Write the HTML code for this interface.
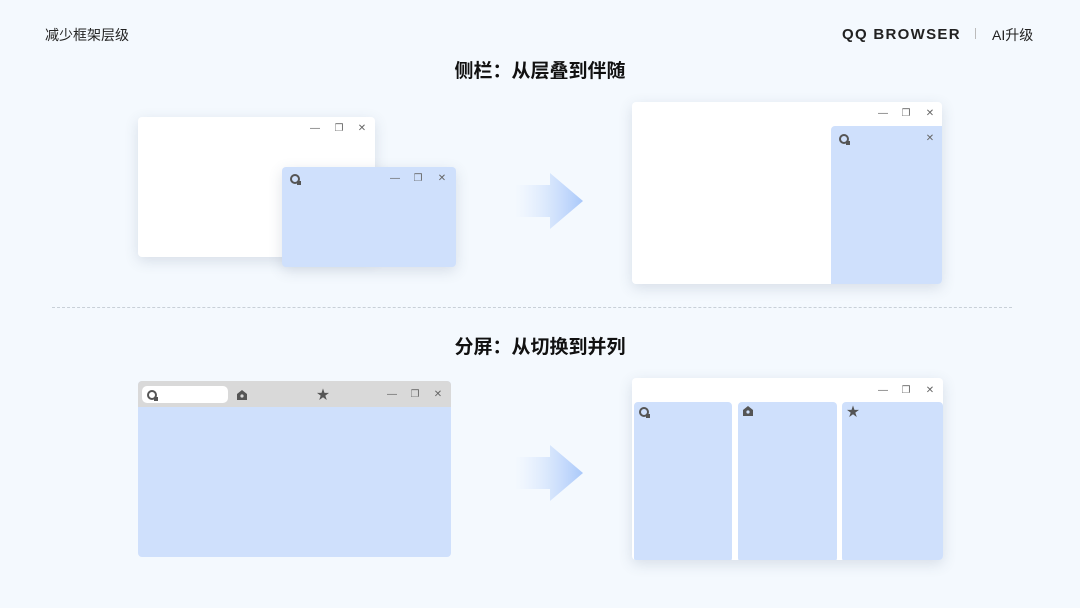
<!DOCTYPE html><html><head><meta charset="utf-8"><style>
*{margin:0;padding:0;box-sizing:border-box}
body{width:1080px;height:608px;background:#f4f9fe;position:relative;overflow:hidden;font-family:"Liberation Sans","Noto Sans CJK SC",sans-serif;color:#222}
.a{position:absolute}
.w{position:absolute;background:#fff;border-radius:4px;box-shadow:0 4px 14px rgba(60,80,110,.16)}
.b{background:#cfe0fc}
.ic{position:absolute;font-size:10px;color:#666;line-height:12px;transform:translate(-50%,-50%)}
.q{position:absolute;width:10px;height:10px;border:2.6px solid #555;border-radius:50%;transform:translate(-50%,-50%)}
.q:after{content:"";position:absolute;right:-3px;bottom:-3px;width:4px;height:4px;background:#555}
.h{position:absolute;width:10px;height:10px;transform:translate(-50%,-50%)}
.t{position:absolute;left:0;width:1080px;text-align:center;font-weight:bold;font-size:19px;color:#111}
</style></head><body>
<div class="a" style="left:45px;top:25px;font-size:14px">减少框架层级</div>
<div class="a" style="left:842px;top:26px;font-size:15px;font-weight:bold;letter-spacing:1.3px;color:#222">QQ BROWSER</div>
<div class="a" style="left:975px;top:28px;width:1px;height:11px;background:#bbb"></div>
<div class="a" style="left:992px;top:25px;font-size:14px">AI升级</div>
<div class="t" style="top:56px">侧栏：从层叠到伴随</div>
<div class="t" style="top:332px">分屏：从切换到并列</div>
<div class="a" style="left:52px;top:307px;width:960px;border-top:1px dashed #c8d0d8"></div>

<div class="w" style="left:138px;top:117px;width:237px;height:140px"></div>
<div class="ic" style="left:315px;top:129px">—</div><div class="ic" style="left:339px;top:129px">❐</div><div class="ic" style="left:362px;top:129px">✕</div>
<div class="w b" style="left:282px;top:167px;width:174px;height:100px"></div>
<div class="q" style="left:295px;top:179px"></div>
<div class="ic" style="left:395px;top:179px">—</div><div class="ic" style="left:418px;top:179px">❐</div><div class="ic" style="left:442px;top:179px">✕</div>

<svg class="a" style="left:510px;top:168px" width="80" height="66"><defs><linearGradient id="g" x1="0" x2="1"><stop offset="0" stop-color="#cfe0fc" stop-opacity="0"/><stop offset="1" stop-color="#a9c8fa"/></linearGradient></defs><path d="M5 17H40V5L73 33L40 61V49H5Z" fill="url(#g)"/></svg>
<svg class="a" style="left:510px;top:440px" width="80" height="66"><path d="M5 17H40V5L73 33L40 61V49H5Z" fill="url(#g)"/></svg>

<div class="w" style="left:632px;top:102px;width:310px;height:182px;overflow:hidden"><div class="a b" style="left:199px;top:24px;width:111px;height:158px;border-radius:4px 0 0 0"></div></div>
<div class="ic" style="left:883px;top:114px">—</div><div class="ic" style="left:906px;top:114px">❐</div><div class="ic" style="left:930px;top:114px">✕</div>
<div class="q" style="left:844px;top:139px"></div><div class="ic" style="left:930px;top:139px">✕</div>

<div class="w b" style="left:138px;top:381px;width:313px;height:176px;overflow:hidden;box-shadow:none"><div class="a" style="left:0;top:0;width:313px;height:26px;background:#d9d9d9"></div><div class="a" style="left:4px;top:5px;width:86px;height:17px;background:#fff;border-radius:5px"></div></div>
<div class="q" style="left:152px;top:395px"></div>
<svg class="h" style="left:242px;top:395px" viewBox="0 0 10 10"><path d="M0 4L5 0L10 4V10H0Z" fill="#555"/><circle cx="5" cy="6" r="1.6" fill="#d9d9d9"/></svg>
<div class="ic" style="left:323px;top:395px;color:#555;font-size:13px">★</div>
<div class="ic" style="left:392px;top:395px">—</div><div class="ic" style="left:415px;top:395px">❐</div><div class="ic" style="left:438px;top:395px">✕</div>

<div class="w" style="left:632px;top:378px;width:311px;height:182px;overflow:hidden">
<div class="a b" style="left:2px;top:24px;width:98px;height:160px;border-radius:4px"></div>
<div class="a b" style="left:106px;top:24px;width:99px;height:160px;border-radius:4px"></div>
<div class="a b" style="left:210px;top:24px;width:101px;height:160px;border-radius:4px"></div></div>
<div class="ic" style="left:883px;top:391px">—</div><div class="ic" style="left:906px;top:391px">❐</div><div class="ic" style="left:930px;top:391px">✕</div>
<div class="q" style="left:644px;top:412px"></div>
<svg class="h" style="left:748px;top:411px" viewBox="0 0 10 10"><path d="M0 4L5 0L10 4V10H0Z" fill="#555"/><circle cx="5" cy="6" r="1.6" fill="#cfe0fc"/></svg>
<div class="ic" style="left:853px;top:412px;color:#555;font-size:13px">★</div>
</body></html>
